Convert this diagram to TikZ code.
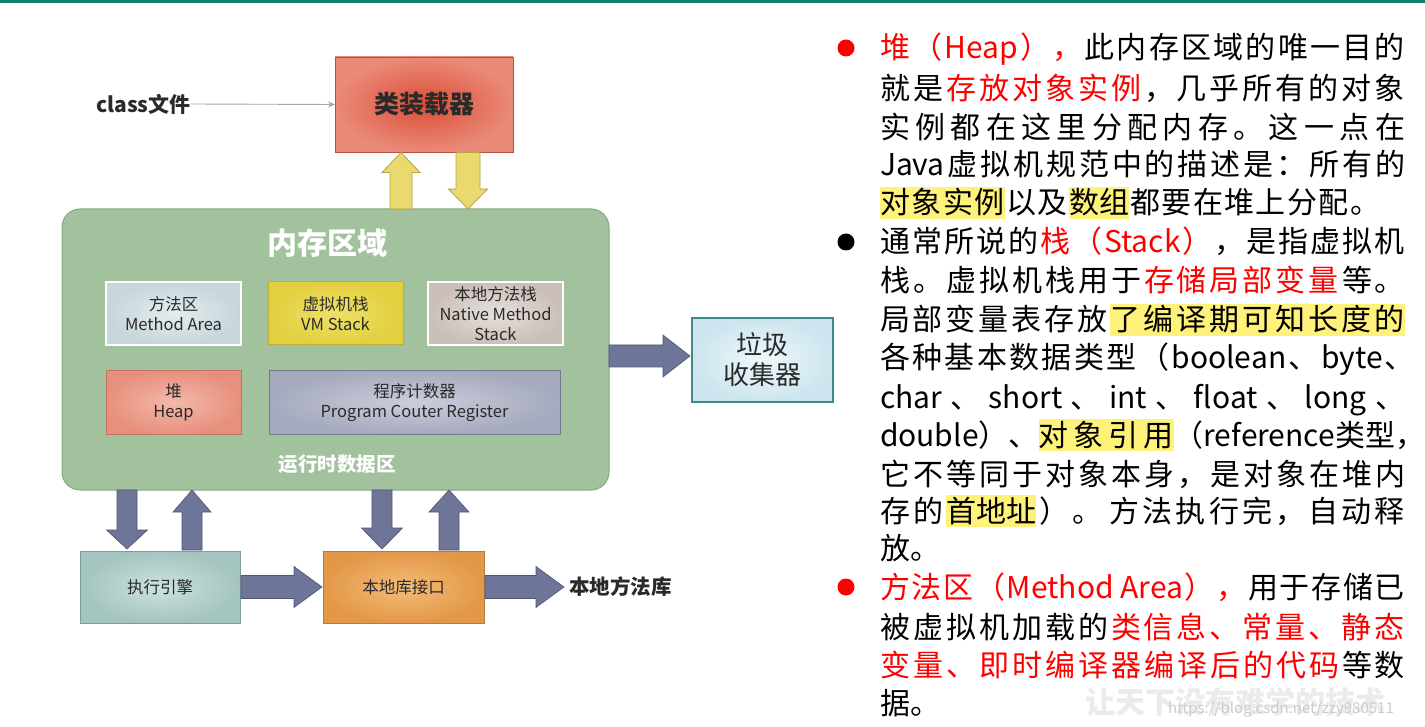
\documentclass[tikz,border=0pt]{standalone}
\usepackage{fontspec}
\setmainfont{Noto Sans CJK SC}
\usetikzlibrary{calc,arrows.meta}
% ---- inter-character glue for CJK (used only for justified lines) ----
\newXeTeXintercharclass\cjkcls
\newcount\cjkcnt
\def\setcjkrange#1#2{\cjkcnt=#1\relax\loop\XeTeXcharclass\cjkcnt=\cjkcls\relax\ifnum\cjkcnt<#2\relax\advance\cjkcnt by 1\relax\repeat}
\setcjkrange{"3000}{"303F}
\setcjkrange{"4E00}{"9FFF}
\setcjkrange{"FF00}{"FFEF}
\XeTeXinterchartoks\cjkcls\cjkcls={\hskip0pt plus 1fil\relax}
\XeTeXinterchartoks 0 \cjkcls={\hskip0pt plus 1fil\relax}
\XeTeXinterchartoks\cjkcls 0 ={\hskip0pt plus 1fil\relax}
% ---- colours ----
\definecolor{band}{HTML}{137D6B}
\definecolor{memgreen}{HTML}{A2C29E}
\definecolor{memedge}{HTML}{86A783}
\definecolor{ldin}{HTML}{DA4E36}
\definecolor{ldout}{HTML}{EA8A78}
\definecolor{ldedge}{HTML}{B8503E}
\definecolor{yfill}{HTML}{E9D96E}
\definecolor{yedge}{HTML}{B5A443}
\definecolor{gafill}{HTML}{6E7599}
\definecolor{gaedge}{HTML}{4F5577}
\definecolor{main}{HTML}{E4EDEF}
\definecolor{maout}{HTML}{C6D6DA}
\definecolor{vmin}{HTML}{EEE068}
\definecolor{vmout}{HTML}{E2D040}
\definecolor{vmedge}{HTML}{BFAF35}
\definecolor{nmin}{HTML}{E6E0DC}
\definecolor{nmout}{HTML}{CABFB8}
\definecolor{heapin}{HTML}{F4B8AA}
\definecolor{heapout}{HTML}{E8907E}
\definecolor{heapedge}{HTML}{C67462}
\definecolor{pcin}{HTML}{CACEDC}
\definecolor{pcout}{HTML}{A6AABE}
\definecolor{pcedge}{HTML}{767A90}
\definecolor{gcin}{HTML}{EEF8FB}
\definecolor{gcout}{HTML}{CDE5EE}
\definecolor{gcedge}{HTML}{3C8A8A}
\definecolor{exein}{HTML}{CCE2DE}
\definecolor{exeout}{HTML}{A4C4C0}
\definecolor{exeedge}{HTML}{7C9E9A}
\definecolor{nliin}{HTML}{F3BC78}
\definecolor{nliout}{HTML}{E39848}
\definecolor{nliedge}{HTML}{B37A42}
\definecolor{txtdark}{HTML}{2A2A2A}
\definecolor{hly}{HTML}{FFF27A}
% ---- helpers ----
\newcommand\jl[2][525pt]{\XeTeXinterchartokenstate=1\relax\makebox[#1][s]{#2}}
\newcommand\hl[2][]{{\setlength\fboxsep{0pt}\colorbox{hly}{\rule[-5pt]{0pt}{32pt}\ifx&#1&#2\else\makebox[#1][s]{#2}\fi}}}
\newcommand\rd[1]{\textcolor{red}{#1}}
\newcommand\bigtxt{\fontsize{30}{30}\selectfont}
% block arrow: [style] start, end, shaft half width, head half width, head length
\newcommand\blockarrow[6][]{%
  \coordinate (bahd) at ($(#3)!#6!(#2)$);
  \draw[#1] ($(#2)!#4!90:(#3)$) -- ($(bahd)!#4!90:(#3)$) -- ($(bahd)!#5!90:(#3)$) -- (#3)
    -- ($(bahd)!#5!-90:(#3)$) -- ($(bahd)!#4!-90:(#3)$) -- ($(#2)!#4!-90:(#3)$) -- cycle;}
\tikzset{
  box/.style={rectangle, inner sep=0pt, outer sep=0pt, align=center},
  small/.style={font=\fontsize{16.5}{20}\selectfont, text=txtdark},
  garrow/.style={fill=gafill, draw=gaedge, line width=0.6pt},
  yarrow/.style={fill=yfill, draw=yedge, line width=0.8pt},
  txt/.style={anchor=base west, inner sep=0pt, outer sep=0pt, font=\bigtxt},
  bullet/.style={circle, inner sep=0pt, minimum size=17pt},
}
\begin{document}
\begin{tikzpicture}[x=1pt, y=-1pt]
\useasboundingbox (0,0) rectangle (1425,727);
\fill[white] (0,0) rectangle (1425,727);
\fill[band] (0,0) rectangle (1425,3.5);

% ---- watermark ----
\node[anchor=west, inner sep=0pt, text=gray!16, font=\fontsize{30}{30}\selectfont\bfseries] (wm) at (1085,702) {让天下没有难学的技术};
\node[anchor=west, inner sep=0pt, text=gray!40, font=\fontsize{15}{15}\selectfont] (url) at (1168,709) {https://blog.csdn.net/zzy980511};

% ---- diagram ----
\node[box, minimum width=178pt, minimum height=95pt, shade, inner color=ldin, outer color=ldout, draw=ldedge, line width=0.8pt,
  font=\fontsize{25}{25}\selectfont\bfseries, text=txtdark] (loader) at (424,104.5) {类装载器};
\node[anchor=west, inner sep=0pt, font=\fontsize{21}{21}\selectfont\bfseries, text=txtdark] (cls) at (96,104) {class文件};
\draw[-{Stealth[length=7pt,width=6pt]}, draw=gray!70, line width=0.9pt] (cls.east) -- (loader.west);

\node[box, rounded corners=18pt, minimum width=547pt, minimum height=281pt, fill=memgreen, draw=memedge, line width=1pt] (mem) at (335.5,349.5) {};
\node[inner sep=0pt, text=white, font=\fontsize{30}{30}\selectfont\bfseries] (memtitle) at (327,243) {内存区域};
\node[inner sep=0pt, text=white, font=\fontsize{19.5}{19.5}\selectfont\bfseries] (runtime) at (337,464) {运行时数据区};

\node[box, small, minimum width=135pt, minimum height=63pt, shade, inner color=main, outer color=maout, draw=white, line width=2pt] (ma) at (173.5,313.5) {方法区\\Method Area};
\node[box, small, minimum width=135pt, minimum height=63pt, shade, inner color=vmin, outer color=vmout, draw=vmedge, line width=1pt] (vm) at (335.5,313.5) {虚拟机栈\\VM Stack};
\node[box, small, minimum width=135pt, minimum height=63pt, shade, inner color=nmin, outer color=nmout, draw=white, line width=2pt] (nm) at (495.5,313.5) {本地方法栈\\Native Method\\Stack};
\node[box, small, minimum width=135pt, minimum height=63pt, shade, inner color=heapin, outer color=heapout, draw=heapedge, line width=1pt] (heap) at (173.5,402.5) {堆\\Heap};
\node[box, small, minimum width=291pt, minimum height=63pt, shade, inner color=pcin, outer color=pcout, draw=pcedge, line width=1pt] (pc) at (414.5,402.5) {程序计数器\\Program Couter Register};

\node[box, minimum width=141pt, minimum height=84pt, shade, inner color=gcin, outer color=gcout, draw=gcedge, line width=2.5pt,
  font=\fontsize{26}{30}\selectfont, text=txtdark] (gc) at (762.5,360) {垃圾\\收集器};

\node[box, small, minimum width=160pt, minimum height=72pt, shade, inner color=exein, outer color=exeout, draw=exeedge, line width=1pt] (exe) at (160,587) {执行引擎};
\node[box, small, minimum width=161pt, minimum height=72pt, shade, inner color=nliin, outer color=nliout, draw=nliedge, line width=1pt] (nli) at (403.5,587) {本地库接口};
\node[anchor=west, inner sep=0pt, font=\fontsize{20.5}{20.5}\selectfont\bfseries, text=txtdark] (nml) at (569,587) {本地方法库};

% arrow end points
\coordinate (yu1) at (401,209);   \coordinate (yu2) at (401,152.5);
\coordinate (yd1) at (468,152.5); \coordinate (yd2) at (468,209);
\coordinate (g1) at (609,356);    \coordinate (g2) at (690,356);
\coordinate (d1a) at (127,490);   \coordinate (d1b) at (127,549);
\coordinate (u1a) at (192,550);   \coordinate (u1b) at (192,490);
\coordinate (d2a) at (382,490);   \coordinate (d2b) at (382,549);
\coordinate (u2a) at (449,550);   \coordinate (u2b) at (449,490);
\coordinate (h1a) at (241,587);   \coordinate (h1b) at (322,587);
\coordinate (h2a) at (485,587);   \coordinate (h2b) at (564,587);

\blockarrow[yarrow]{yu1}{yu2}{11pt}{19pt}{20pt}
\blockarrow[yarrow]{yd1}{yd2}{12pt}{19.5pt}{20pt}
\blockarrow[garrow]{g1}{g2}{11pt}{21pt}{27pt}
\blockarrow[garrow]{d1a}{d1b}{10pt}{20.5pt}{19pt}
\blockarrow[garrow]{u1a}{u1b}{10pt}{19pt}{22pt}
\blockarrow[garrow]{d2a}{d2b}{10pt}{20.5pt}{21pt}
\blockarrow[garrow]{u2a}{u2b}{10pt}{20pt}{22pt}
\blockarrow[garrow]{h1a}{h1b}{11.5pt}{20.5pt}{28pt}
\blockarrow[garrow]{h2a}{h2b}{11.5pt}{20.5pt}{28pt}

% ---- right text ----
\node[bullet, fill=red] (b1) at (846,48) {};
\node[bullet, fill=black] (b2) at (846,242) {};
\node[bullet, fill=red] (b3) at (846,587) {};

\node[txt] (l1) at (880,59) {\jl{\rd{堆（Heap），}\hfil 此内存区域的唯一目的}};
\node[txt] (l2) at (880,100) {\jl{就是\hfil\rd{存放对象实例}\hfil ，几乎所有的对象}};
\node[txt] (l3) at (880,139) {\jl{实例都在这里分配内存。这一点在}};
\node[txt] (l4) at (880,176) {\jl{Java虚拟机规范中的描述是：所有的}};
\node[txt] (l5) at (880,214) {\jl[500pt]{\hl[125pt]{对象实例}\hfil 以及\hfil\hl{数组}\hfil 都要在堆上分配。}};
\node[txt] (l6) at (880,253) {\jl{通常所说的\hfil\rd{栈（Stack）}\hfil ，\hfil 是指虚拟机}};
\node[txt] (l7) at (880,292) {\jl{栈。虚拟机栈用于\hfil\rd{存储局部变量}\hfil 等。}};
\node[txt] (l8) at (880,331) {\jl{局部变量表存放\hfil\hl[295pt]{了编译期可知长度的}}};
\node[txt] (l9) at (880,369) {\jl[535pt]{各种基本数据类型（boolean、byte、}};
\node[txt] (l10) at (880,408) {\jl{char 、 short 、 int 、 float 、 long 、}};
\node[txt] (l11) at (880,446) {\jl[540pt]{double）、\hfil\hl[135pt]{对象引用}\hfil（reference类型，}};
\node[txt] (l12) at (880,485) {\jl{它不等同于对象本身，是对象在堆内}};
\node[txt] (l13) at (880,522) {\jl{存的\hfil\hl{首地址}\hfil ）。 方法执行完，自动释}};
\node[txt] (l14) at (880,559) {放。};
\node[txt] (l15) at (880,598) {\jl{\rd{方法区（Method Area），}\hfil 用于存储已}};
\node[txt] (l16) at (880,638) {\jl{被虚拟机加载的\hfil\rd{类信息、常量、静态}}};
\node[txt] (l17) at (880,676) {\jl{\rd{变量、即时编译器编译后的代码}\hfil 等数}};
\node[txt] (l18) at (880,714) {据。};
\end{tikzpicture}
\end{document}
